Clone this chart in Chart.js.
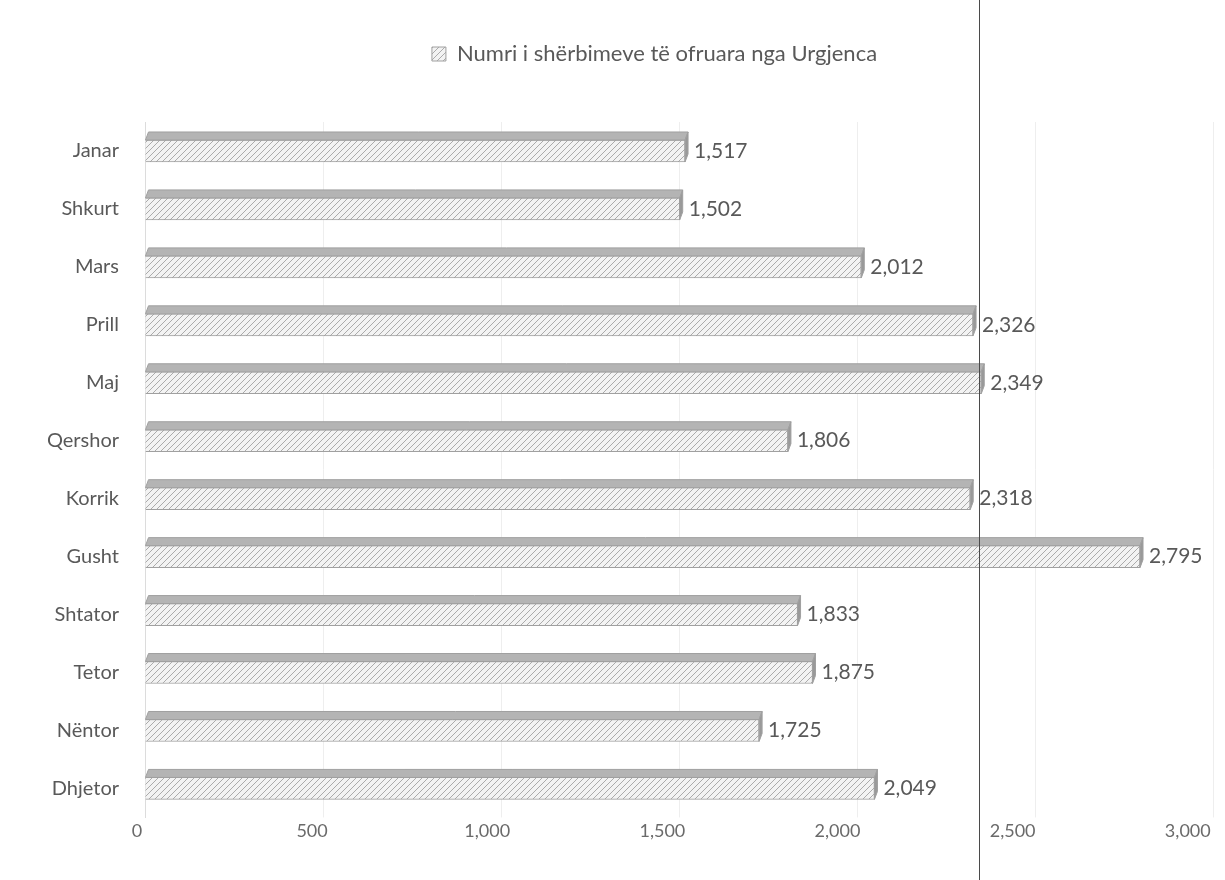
<!DOCTYPE html>
<html><head><meta charset="utf-8">
<script src="https://cdn.jsdelivr.net/npm/chart.js@4/dist/chart.umd.min.js"></script>
<style>
html,body{margin:0;padding:0;background:#fff;}
#wrap{position:relative;width:1225px;height:880px;}
#edge{position:absolute;left:979px;top:0;width:1px;height:880px;background:#4a4a4a;}
</style></head><body>
<div id="wrap"><canvas id="c" width="1225" height="880"></canvas><div id="edge"></div></div>
<script>
const months = ['Janar','Shkurt','Mars','Prill','Maj','Qershor','Korrik','Gusht','Shtator','Tetor','Nëntor','Dhjetor'];
const values = [1517,1502,2012,2326,2349,1806,2318,2795,1833,1875,1725,2049];
const tickValues = [0,500,1000,1500,2000,2500,3000];
const seriesLabel = 'Numri i shërbimeve të ofruara nga Urgjenca';

const FONT = 'Lato';
const canvas = document.getElementById('c');
const ctx0 = canvas.getContext('2d');

function hatchPattern(){
  const p = document.createElement('canvas');
  p.width = 6; p.height = 6;
  const g = p.getContext('2d');
  g.fillStyle = '#f3f3f3'; g.fillRect(0,0,6,6);
  g.strokeStyle = '#ababab'; g.lineWidth = 1;
  g.beginPath();
  g.moveTo(0,6); g.lineTo(6,0);
  g.moveTo(-1,1); g.lineTo(1,-1);
  g.moveTo(5,7); g.lineTo(7,5);
  g.stroke();
  return ctx0.createPattern(p,'repeat');
}
const hatch = hatchPattern();
const fmt = v => v.toLocaleString('en-US');

const depthPlugin = {
  id:'depth',
  afterLayout(chart){
    const lg = chart.legend;
    if (lg){ lg.left += 48; lg.right += 48; lg.top -= 47; lg.bottom -= 47; }
  },
  afterDatasetsDraw(chart){
    const ctx = chart.ctx;
    const meta = chart.getDatasetMeta(0);
    const dx = 3, dy = 8;
    ctx.save();
    meta.data.forEach((bar,i)=>{
      const {x,y,base,height} = bar.getProps(['x','y','base','height'], true);
      const top = y - height/2, bot = y + height/2;
      ctx.fillStyle = '#b4b4b4';
      ctx.strokeStyle = '#a0a0a0';
      ctx.lineWidth = 1;
      ctx.beginPath();
      ctx.moveTo(base, top); ctx.lineTo(base+dx, top-dy); ctx.lineTo(x+dx, top-dy); ctx.lineTo(x, top);
      ctx.closePath(); ctx.fill(); ctx.stroke();
      ctx.fillStyle = '#999999';
      ctx.beginPath();
      ctx.moveTo(x, top); ctx.lineTo(x+dx, top-dy); ctx.lineTo(x+dx, bot-dy); ctx.lineTo(x, bot);
      ctx.closePath(); ctx.fill(); ctx.stroke();
      ctx.fillStyle = '#595959';
      ctx.font = '21px ' + FONT;
      ctx.textAlign = 'left';
      ctx.textBaseline = 'middle';
      ctx.fillText(fmt(values[i]), x + dx + 6, y);
    });
    ctx.restore();
  }
};

new Chart(canvas, {
  type:'bar',
  data:{
    labels: months,
    datasets:[{
      label: seriesLabel,
      data: values,
      xAxisID:'x', yAxisID:'y',
      backgroundColor: hatch,
      borderColor:'#a0a0a0',
      borderWidth:1,
      barThickness:22
    }]
  },
  options:{
    indexAxis:'y',
    responsive:false,
    animation:false,
    layout:{padding:{top:80,right:12,bottom:35,left:0}},
    plugins:{
      legend:{display:true, position:'top',
        labels:{boxWidth:14, boxHeight:14, padding:10, color:'#595959', font:{family:FONT, size:22}}},
      tooltip:{enabled:false}
    },
    scales:{
      y:{
        type:'category', offset:true,
        grid:{display:false, drawTicks:false},
        border:{display:true, color:'#dcdcdc'},
        ticks:{color:'#595959', font:{family:FONT, size:20}, padding:26},
        afterFit(s){ s.width = 145; }
      },
      x:{
        type:'linear', position:'top', min:0, max:3000,
        ticks:{display:false, stepSize:500},
        grid:{color:'#eeeeee', drawTicks:false},
        border:{display:false},
        afterFit(s){ s.height = 0; }
      },
      x2:{
        type:'linear', position:'bottom', min:23, max:3072,
        grid:{display:false, drawTicks:false}, border:{display:false},
        ticks:{color:'#6a6a6a', font:{family:FONT, size:18}, padding:3, autoSkip:false, maxRotation:0,
          callback: v => fmt(v)},
        afterBuildTicks(s){ s.ticks = tickValues.map(v => ({value:v})); }
      }
    }
  },
  plugins:[depthPlugin]
});
</script>
</body></html>
